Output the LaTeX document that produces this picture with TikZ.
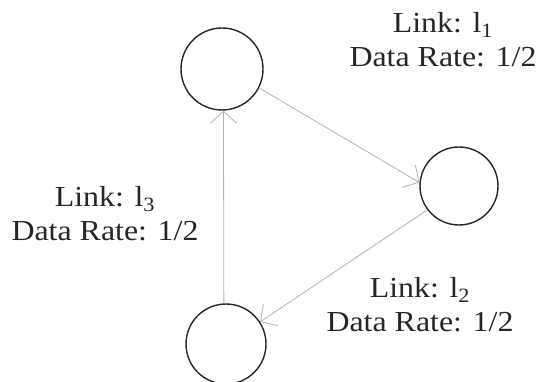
\documentclass[tikz,border=0pt]{standalone}
\usepackage{fontspec}
\setmainfont{Liberation Serif}
\usetikzlibrary{arrows.meta}
\begin{document}
\begin{tikzpicture}[x=1pt,y=-1pt,
  vertex/.style={circle,draw=black!85,line width=1.4pt,inner sep=0pt,minimum size=82pt},
  link/.style={draw=black!30,line width=0.8pt,-{Straight Barb[length=12pt,width=26pt,line width=0.8pt]}},
  lbl/.style={align=center,font=\fontsize{29}{34}\selectfont,text=black!85,inner sep=0pt,xscale=1.1,transform shape}]
\useasboundingbox (0,0) rectangle (539,382);
\node[vertex] (top) at (222,69) {};
\node[vertex,minimum size=78pt] (right) at (459,186) {};
\node[vertex,minimum size=80pt] (bot) at (226,344) {};
\draw[link] (top.-27) -- (right.175);
\draw[link] (right.217) -- (bot.33);
\draw[link] (bot.93) -- (top.-88);
\node[lbl] (l1) at (443,40) {Link: l\textsubscript{1}\\Data Rate: 1/2};
\node[lbl] (l3) at (105,214) {Link: l\textsubscript{3}\\Data Rate: 1/2};
\node[lbl] (l2) at (420,305) {Link: l\textsubscript{2}\\Data Rate: 1/2};
\end{tikzpicture}
\end{document}
